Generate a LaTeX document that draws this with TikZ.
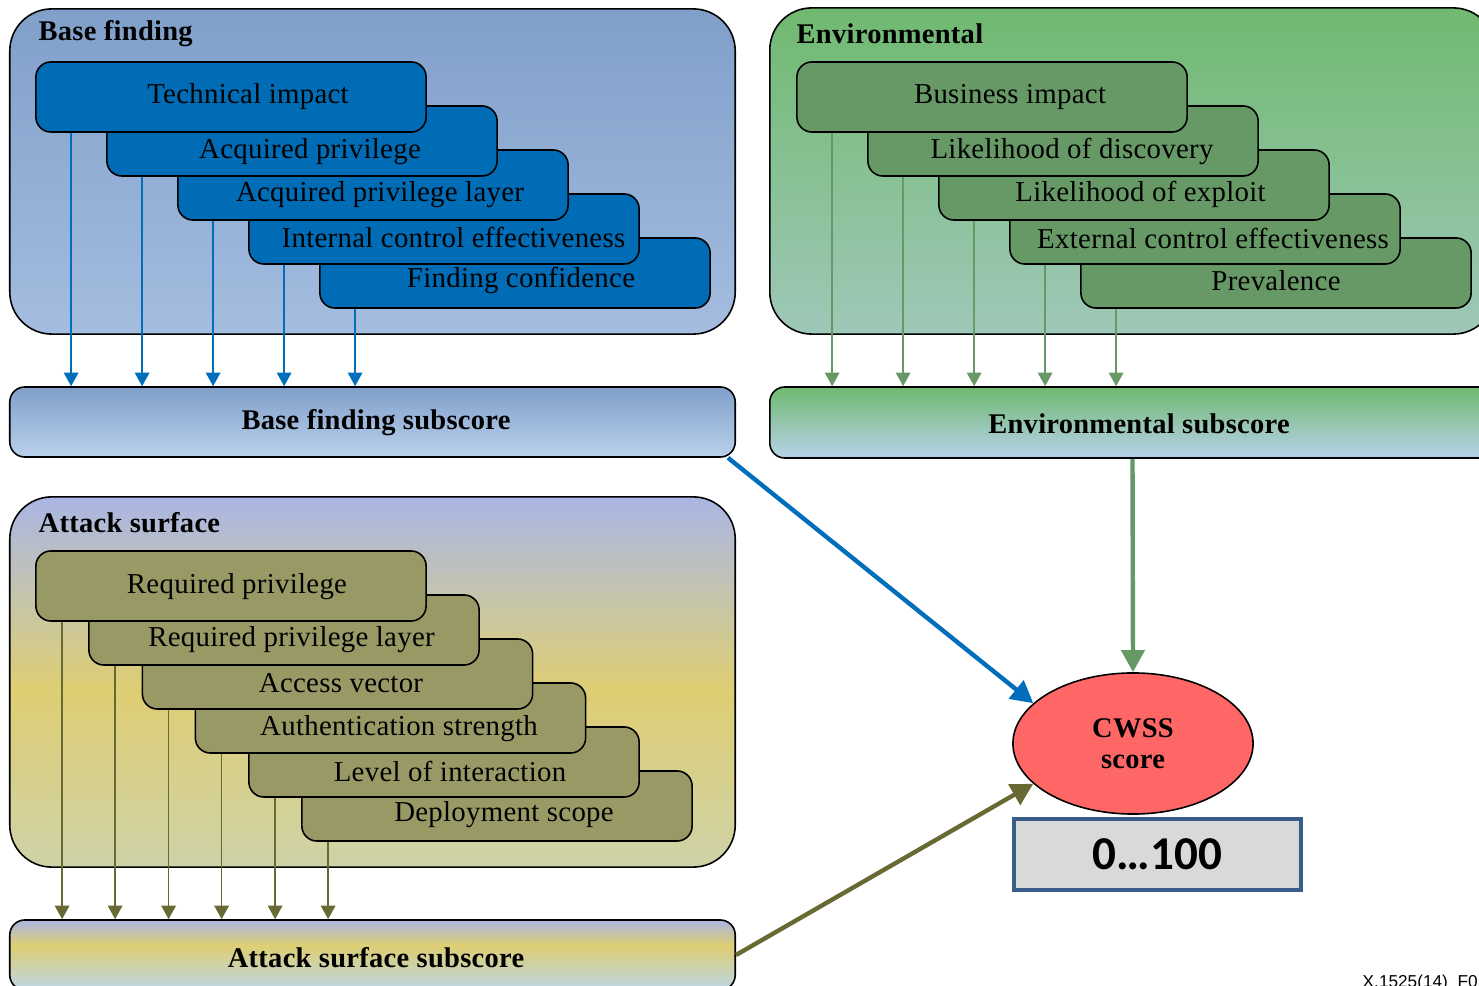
\documentclass[tikz,border=0pt]{standalone}
\usepackage{fontspec}
\setmainfont[LetterSpace=1]{Liberation Serif}
\newfontfamily\numfont{Carlito}
\newfontfamily\tagfont{Liberation Sans}
\usetikzlibrary{arrows.meta,shapes.geometric}

% palette
\definecolor{bfTop}{RGB}{128,159,201}
\definecolor{bfBot}{RGB}{164,189,224}
\definecolor{bfBarBot}{RGB}{186,209,236}
\definecolor{bfBox}{RGB}{0,108,182}
\definecolor{bfArrow}{RGB}{0,110,186}
\definecolor{envTop}{RGB}{112,185,112}
\definecolor{envBot}{RGB}{158,200,184}
\definecolor{envBarBot}{RGB}{184,210,234}
\definecolor{envBox}{RGB}{102,153,102}
\definecolor{envArrow}{RGB}{102,153,102}
\definecolor{atkTop}{RGB}{170,182,228}
\definecolor{atkMid}{RGB}{198,197,170}
\definecolor{atkGold}{RGB}{222,206,115}
\definecolor{atkBot}{RGB}{207,210,168}
\definecolor{atkBarBot}{RGB}{188,214,230}
\definecolor{atkBox}{RGB}{153,153,102}
\definecolor{atkArrow}{RGB}{105,105,52}
\definecolor{cwssFill}{RGB}{255,102,102}
\definecolor{rangeFill}{RGB}{217,217,217}
\definecolor{rangeLine}{RGB}{56,93,138}

% multi-stop vertical shadings (path spans 25bp..75bp)
\pgfdeclareverticalshading{atkpanelshade}{100bp}{color(0bp)=(atkBot); color(25bp)=(atkBot); color(49bp)=(atkGold); color(61bp)=(atkMid); color(75bp)=(atkTop); color(100bp)=(atkTop)}
\pgfdeclareverticalshading{atkbarshade}{100bp}{color(0bp)=(atkBarBot); color(25bp)=(atkBarBot); color(57bp)=(atkGold); color(75bp)=(atkTop); color(100bp)=(atkTop)}

\tikzset{
  outline/.style={draw=black, line width=0.45pt},
  panelbox/.style={outline, rounded corners=0.42cm, minimum width=7.25cm, inner sep=0pt},
  barbox/.style={outline, rounded corners=0.15cm, minimum width=7.25cm, minimum height=0.70cm, inner sep=0pt},
  itembox/.style={outline, rounded corners=0.15cm, minimum width=3.9cm, minimum height=0.70cm, inner sep=0pt},
  itemtext/.style={anchor=base, inner sep=0pt, yshift=-0.02cm, font=\fontsize{8.2}{9}\selectfont},
  headtext/.style={anchor=base west, inner sep=0pt, font=\fontsize{8.1}{9}\selectfont\bfseries},
  bartext/.style={anchor=base, inner sep=0pt, yshift=-0.02cm, font=\fontsize{8.1}{9}\selectfont\bfseries},
  feed/.style={line width=0.45pt, -{Triangle[width=0.145cm,length=0.135cm]}},
  merge/.style={line width=1.25pt, -{Triangle[width=0.23cm,length=0.22cm]}},
}

\begin{document}
\begin{tikzpicture}[x=0.01cm, y=-0.01cm]
\useasboundingbox (0,0) rectangle (1479,986);
\clip (0,0) rectangle (1479,986);

% ---------- group panels ----------
\node[panelbox, minimum height=3.25cm, top color=bfTop, bottom color=bfBot] (bfpanel) at (372.5,171.5) {};
\node[panelbox, minimum height=3.26cm, top color=envTop, bottom color=envBot] (envpanel) at (1132.5,171) {};
\node[panelbox, minimum height=3.70cm, shading=atkpanelshade] (atkpanel) at (372.5,682) {};

\node[headtext] (bftitle) at (38,41) {Base finding};
\node[headtext] (envtitle) at (796,44) {Environmental};
\node[headtext] (atktitle) at (38,533) {Attack surface};

% ---------- base finding factors ----------
\node[itembox, fill=bfBox] (b5) at (515,273) {};
\node[itembox, fill=bfBox] (b4) at (444,229) {};
\node[itembox, fill=bfBox] (b3) at (373,185) {};
\node[itembox, fill=bfBox] (b2) at (302,141) {};
\node[itembox, fill=bfBox] (b1) at (231,97) {};
\node[itemtext] (bt1) at (248,102) {Technical impact};
\node[itemtext] (bt2) at (310,157) {Acquired privilege};
\node[itemtext] (bt3) at (380,200) {Acquired privilege layer};
\node[itemtext] (bt4) at (453.5,246) {Internal control effectiveness};
\node[itemtext] (bt5) at (521,286) {Finding confidence};

% ---------- environmental factors ----------
\node[itembox, fill=envBox] (e5) at (1276,273) {};
\node[itembox, fill=envBox] (e4) at (1205,229) {};
\node[itembox, fill=envBox] (e3) at (1134,185) {};
\node[itembox, fill=envBox] (e2) at (1063,141) {};
\node[itembox, fill=envBox] (e1) at (992,97) {};
\node[itemtext] (et1) at (1010,102) {Business impact};
\node[itemtext] (et2) at (1072,157) {Likelihood of discovery};
\node[itemtext] (et3) at (1140.5,200) {Likelihood of exploit};
\node[itemtext] (et4) at (1213,247) {External control effectiveness};
\node[itemtext] (et5) at (1276,289) {Prevalence};

% ---------- attack surface factors ----------
\node[itembox, fill=atkBox] (a6) at (497,806) {};
\node[itembox, fill=atkBox] (a5) at (444,762) {};
\node[itembox, fill=atkBox] (a4) at (390.5,718) {};
\node[itembox, fill=atkBox] (a3) at (337.5,674) {};
\node[itembox, fill=atkBox] (a2) at (284,630) {};
\node[itembox, fill=atkBox] (a1) at (231,586) {};
\node[itemtext] (at1) at (237,592) {Required privilege};
\node[itemtext] (at2) at (291.5,645) {Required privilege layer};
\node[itemtext] (at3) at (341,691) {Access vector};
\node[itemtext] (at4) at (399,734) {Authentication strength};
\node[itemtext] (at5) at (450,780) {Level of interaction};
\node[itemtext] (at6) at (504,820) {Deployment scope};

% ---------- subscore bars ----------
\node[barbox, top color=bfTop, bottom color=bfBarBot] (bfbar) at (372.5,422) {};
\node[barbox, minimum height=0.71cm, top color=envTop, bottom color=envBarBot] (envbar) at (1132.5,422.5) {};
\node[barbox, shading=atkbarshade] (atkbar) at (372.5,955) {};
\node[bartext] (bfbartext) at (376,428) {Base finding subscore};
\node[bartext] (envbartext) at (1139,432) {Environmental subscore};
\node[bartext] (atkbartext) at (376,965) {Attack surface subscore};

% ---------- factor feeds ----------
\foreach \b in {b1,b2,b3,b4,b5}
  \draw[feed, bfArrow] ([xshift=0.36cm]\b.south west) -- ([xshift=0.36cm]\b.south west |- bfbar.north);
\foreach \e in {e1,e2,e3,e4,e5}
  \draw[feed, envArrow] ([xshift=0.36cm]\e.south west) -- ([xshift=0.36cm]\e.south west |- envbar.north);
\foreach \a in {a1,a2,a3,a4,a5,a6}
  \draw[feed, atkArrow] ([xshift=0.27cm]\a.south west) -- ([xshift=0.27cm]\a.south west |- atkbar.north);

% ---------- final score ----------
\node[ellipse, outline, fill=cwssFill, minimum width=2.4cm, minimum height=1.41cm, inner sep=0pt,
      align=center, font=\fontsize{8.1}{8.8}\selectfont\bfseries] (cwss) at (1133,743.5) {CWSS\\score};
\node[draw=rangeLine, line width=1.15pt, fill=rangeFill, minimum width=2.87cm, minimum height=0.71cm,
      inner sep=0pt, font=\numfont\bfseries\fontsize{13.4}{14}\selectfont] (range) at (1157.5,854.5) {0…100};

\draw[merge, bfArrow] ([xshift=-0.08cm]bfbar.south east) -- (cwss.158);
\draw[merge, envArrow] (envbar.south) -- (cwss.north);
\draw[merge, atkArrow] (atkbar.east) -- (cwss.202);

\node[anchor=base west, inner sep=0pt, font=\tagfont\fontsize{4.9}{5}\selectfont] (figtag) at (1362,987) {X.1525(14)\_F0};
\end{tikzpicture}
\end{document}
